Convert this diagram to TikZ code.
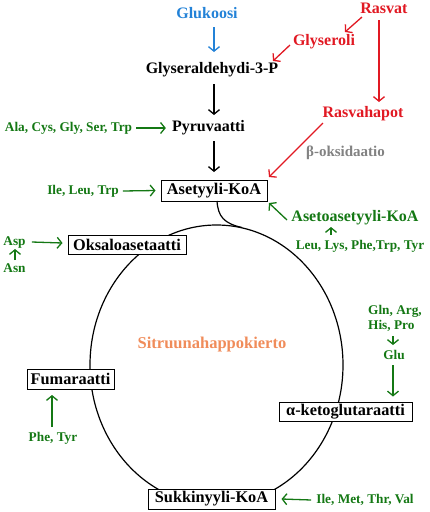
\documentclass[tikz,border=0pt]{standalone}
\usepackage{fontspec}
\setmainfont{Liberation Serif}
\usetikzlibrary{arrows.meta,calc}
\definecolor{gr}{RGB}{20,120,20}
\definecolor{rd}{RGB}{225,25,35}
\definecolor{bl}{RGB}{35,130,215}
\definecolor{gy}{RGB}{130,130,130}
\definecolor{orng}{RGB}{240,140,90}
\begin{document}
\begin{tikzpicture}[x=1pt,y=-1pt,
  arr/.style={-{Straight Barb[length=4.5pt,width=11pt]}, line width=1.3pt},
  box/.style={draw, fill=white, line width=1pt, inner sep=0pt, font=\fontsize{16.3}{18}\selectfont\bfseries},
  lbl/.style={inner sep=0pt, font=\fontsize{16}{18}\selectfont\bfseries},
  sm/.style={inner sep=0pt, text=gr, font=\fontsize{13.3}{15}\selectfont\bfseries}]
\useasboundingbox (0,0) rectangle (430,512);
% cycle
\draw[line width=1.2pt] (216.5,365) ellipse [x radius=126.5pt, y radius=140pt];
% boxes
\node[box, minimum width=106pt, minimum height=21pt] (ak) at (214,190.5) {Asetyyli-KoA};
\node[box, minimum width=118pt, minimum height=19pt] (oa) at (127,244.5) {Oksaloasetaatti};
\node[box, minimum width=87pt, minimum height=20pt] (fu) at (70.5,379) {Fumaraatti};
\node[box, minimum width=133pt, minimum height=19pt] (kg) at (345.5,411.5) {α-ketoglutaraatti};
\node[box, minimum width=127pt, minimum height=20pt] (su) at (211.5,499) {Sukkinyyli-KoA};
\draw[line width=1.2pt] ($(ak)+(3,10.5)$) .. controls ($(ak)+(4,26)$) and ($(ak)+(10,33)$) .. ($(ak)+(28,37)$);
% plain labels
\node[lbl, text=bl] (glu) at (207,13) {Glukoosi};
\node[lbl] (glk) at (212,70) {Glyseraldehydi-3-P};
\node[lbl] (pyr) at (208.5,128) {Pyruvaatti};
\node[lbl, text=rd] (ras) at (384,8) {Rasvat};
\node[lbl, text=rd] (gly) at (324,42) {Glyseroli};
\node[lbl, text=rd] (rh) at (363,114) {Rasvahapot};
\node[lbl, text=gy, font=\fontsize{15}{17}\selectfont\bfseries] (bo) at (345.5,153) {β-oksidaatio};
\node[lbl, text=orng, font=\fontsize{16.5}{18}\selectfont\bfseries] (sit) at (212,345) {Sitruunahappokierto};
% green labels
\node[sm] (ala) at (68.5,128) {Ala, Cys, Gly, Ser, Trp};
\node[sm] (ile) at (83,191) {Ile, Leu, Trp};
\node[sm, font=\fontsize{16}{18}\selectfont\bfseries] (aa) at (355,218) {Asetoasetyyli-KoA};
\node[sm] (leu) at (360,246) {Leu, Lys, Phe,Trp, Tyr};
\node[sm] (asp) at (14.5,243) {Asp};
\node[sm] (asn) at (14.5,268) {Asn};
\node[sm, align=left, anchor=west] (gln) at (368,318) {Gln, Arg,\\His, Pro};
\node[sm] (gu) at (394,355) {Glu};
\node[sm] (phe) at (53,438) {Phe, Tyr};
\node[sm] (imt) at (365,500) {Ile, Met, Thr, Val};
% arrows
\draw[arr, bl] ($(glu)+(7,14)$) -- ($(glk)+(2,-18)$);
\draw[arr, rd] ($(ras)+(-22,9)$) -- ($(gly)+(21,-10)$);
\draw[arr, rd] ($(gly)+(-34,3)$) -- ($(glk)+(61,-9)$);
\draw[arr, rd] ($(ras)+(-5,12)$) -- ($(rh)+(16,-12)$);
\draw[arr, rd] ($(rh)+(-40,9)$) -- ($(ak)+(55,-13.5)$);
\draw[arr] ($(glk)+(2,14)$) -- ($(pyr)+(5.5,-13)$);
\draw[arr] ($(pyr)+(5.5,13)$) -- ($(ak)+(0,-18.5)$);
\draw[arr, gr] ($(ala.east)+(4,0)$) -- ($(pyr.west)+(-6,0)$);
\draw[arr, gr] ($(ile.east)+(4,0)$) -- ($(ak.west)+(-5,0)$);
\draw[arr, gr] ($(aa)+(-68,2)$) -- ($(ak)+(55,12.5)$);
\draw[arr, gr] ($(leu)+(-29,-11)$) -- ($(aa)+(-24,9)$);
\draw[arr, gr] ($(asp.east)+(6,-1)$) -- ($(oa.west)+(-5,-1.5)$);
\draw[arr, gr] ($(asn)+(0.5,-8)$) -- ($(asp)+(0.5,6)$);
\draw[arr, gr] ($(gu)+(-1,-19)$) -- ($(gu)+(-1,-10)$);
\draw[arr, gr] ($(gu)+(-1,10)$) -- ($(kg)+(47.5,-15)$);
\draw[arr, gr] ($(phe)+(-1,-11)$) -- ($(fu)+(-18.5,16)$);
\draw[arr, gr] ($(imt.west)+(-5,0)$) -- ($(su.east)+(6,0)$);
\end{tikzpicture}
\end{document}
